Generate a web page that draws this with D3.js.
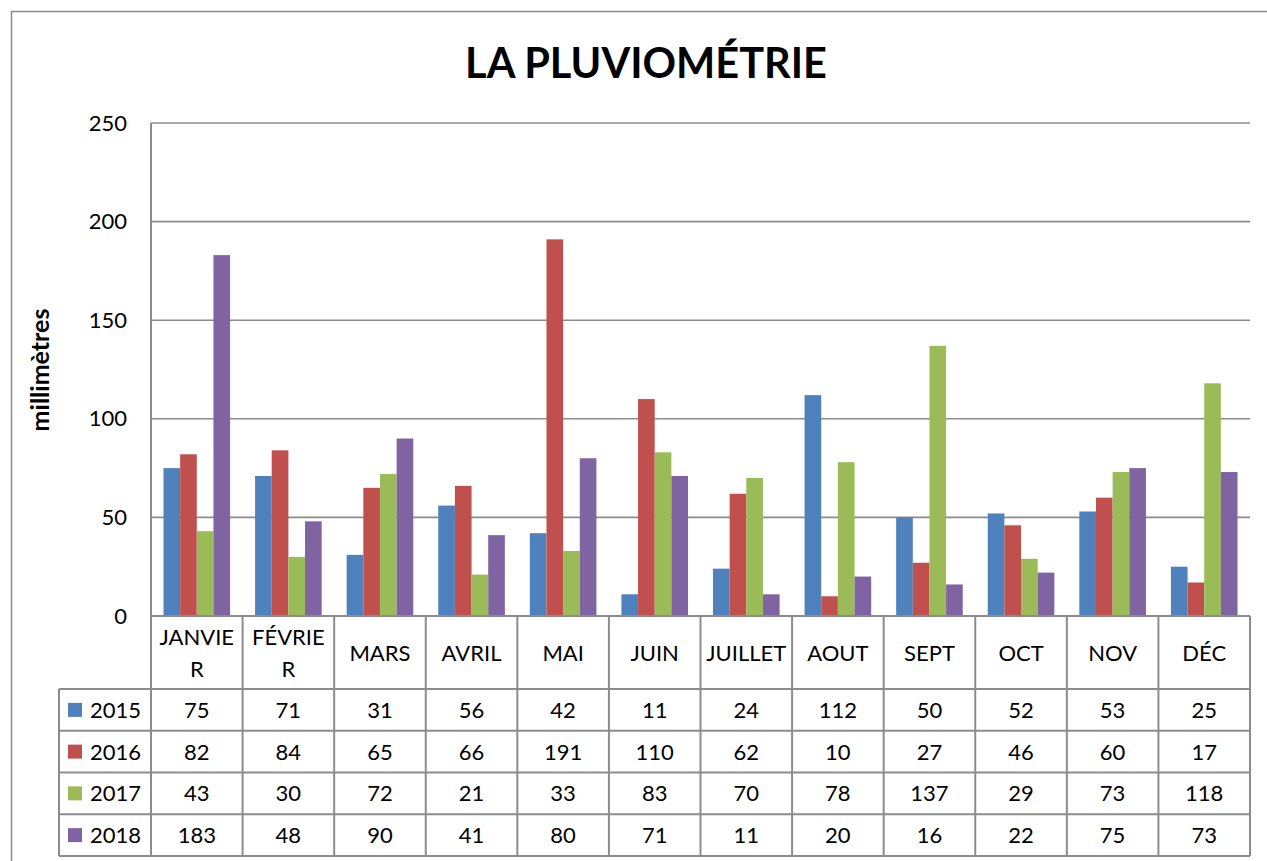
<!DOCTYPE html>
<html><head><meta charset="utf-8">
<script src="https://cdn.jsdelivr.net/npm/d3@7"></script>
<style>html,body{margin:0;padding:0;background:#fff;}svg{display:block;}</style>
</head><body>
<svg id="c" width="1267" height="861"></svg>
<script>
const months = ["JANVIER","FÉVRIER","MARS","AVRIL","MAI","JUIN","JUILLET","AOUT","SEPT","OCT","NOV","DÉC"];
const years = ["2015","2016","2017","2018"];
const v2015 = [75,71,31,56,42,11,24,112,50,52,53,25];
const v2016 = [82,84,65,66,191,110,62,10,27,46,60,17];
const v2017 = [43,30,72,21,33,83,70,78,137,29,73,118];
const v2018 = [183,48,90,41,80,71,11,20,16,22,75,73];
const colors = ["#4F81BD","#C0504D","#9BBB59","#8064A2"];
const yTicks = [0,50,100,150,200,250];
const title = "LA PLUVIOMÉTRIE";
const yTitle = "millimètres";

const series = [v2015,v2016,v2017,v2018];
const FONT = "Lato, 'Open Sans', sans-serif";
const GRID = "#8c8c8c";
const svg = d3.select("#c");

// outer frame
svg.append("path").attr("d","M11.5,870 V11.5 H1280").attr("fill","none").attr("stroke","#8c8c8c").attr("stroke-width",1.5);

const L = 151, R = 1250, T = 123, B = 616;
const y = d3.scaleLinear().domain([0,250]).range([B,T]);
const x0 = d3.scaleBand().domain(months).range([L,R]).padding(0);
const bw = x0.bandwidth();
const barW = bw/(4+1.5);
const x1 = d3.scaleBand().domain(years).range([barW*0.75, bw-barW*0.75]).padding(0);

svg.append("text").attr("x",646).attr("y",78).attr("text-anchor","middle")
  .attr("font-family",FONT).attr("font-weight","bold").attr("font-size",41.5).attr("fill","#000").text(title);

// gridlines
svg.append("g").selectAll("line").data(yTicks.filter(d=>d>0)).join("line")
  .attr("x1",L).attr("x2",R).attr("y1",d=>y(d)).attr("y2",d=>y(d))
  .attr("stroke",GRID).attr("stroke-width",1.6);

// y axis labels
const yAxis = d3.axisLeft(y).tickValues(yTicks).tickSize(0).tickPadding(24);
const ga = svg.append("g").attr("transform",`translate(${L},0)`).call(yAxis);
ga.select(".domain").remove();
ga.selectAll("text").attr("font-family",FONT).attr("font-size",22).attr("fill","#000");
svg.append("line").attr("x1",L).attr("x2",L).attr("y1",T).attr("y2",B).attr("stroke",GRID).attr("stroke-width",2);

svg.append("text").attr("transform",`translate(40,370) rotate(-90)`).attr("text-anchor","middle").attr("dy","0.36em")
  .attr("font-family",FONT).attr("font-weight","bold").attr("font-size",25).text(yTitle);

// bars
const gb = svg.append("g");
series.forEach((s,i)=>{
  gb.append("g").selectAll("rect").data(s).join("rect")
    .attr("x",(d,j)=>x0(months[j])+x1(years[i]))
    .attr("width",x1.bandwidth())
    .attr("y",d=>y(d)).attr("height",d=>B-y(d))
    .attr("fill",colors[i]);
});

// data table
const headH = 73, rowH = 41.75, legL = 59;
const tb = svg.append("g");
const lineAttr = s=>s.attr("stroke",GRID).attr("stroke-width",2).attr("fill","none");
lineAttr(tb.append("line").attr("x1",L).attr("x2",R).attr("y1",B).attr("y2",B));
for(let r=0;r<=4;r++){
  const yy = B+headH+r*rowH;
  lineAttr(tb.append("line").attr("x1",legL).attr("x2",R).attr("y1",yy).attr("y2",yy));
}
const tBottom = B+headH+4*rowH;
months.forEach(m=>lineAttr(tb.append("line").attr("x1",x0(m)).attr("x2",x0(m)).attr("y1",B).attr("y2",tBottom)));
lineAttr(tb.append("line").attr("x1",R).attr("x2",R).attr("y1",B).attr("y2",tBottom));
lineAttr(tb.append("line").attr("x1",legL).attr("x2",legL).attr("y1",B+headH).attr("y2",tBottom));

// category labels with character wrapping
const meas = svg.append("text").attr("font-family",FONT).attr("font-size",22).attr("visibility","hidden");
function w(t){meas.text(t);return meas.node().getComputedTextLength();}
months.forEach(m=>{
  const cx = x0(m)+bw/2;
  let lines=[m];
  if(w(m)>bw-8){
    let k=m.length;
    while(k>1 && w(m.slice(0,k))>bw-8) k--;
    lines=[m.slice(0,k), m.slice(k)];
  }
  const lh=32, cy=B+headH/2+1;
  lines.forEach((ln,li)=>{
    tb.append("text").attr("x",cx).attr("y",cy+(li-(lines.length-1)/2)*lh).attr("dy","0.36em")
      .attr("text-anchor","middle").attr("font-family",FONT).attr("font-size",22).attr("fill","#000").text(ln);
  });
});
meas.remove();

years.forEach((yr,i)=>{
  const cy = B+headH+i*rowH+rowH/2;
  tb.append("rect").attr("x",68).attr("y",cy-7).attr("width",14).attr("height",14).attr("fill",colors[i]);
  tb.append("text").attr("x",90).attr("y",cy).attr("dy","0.36em").attr("font-family",FONT).attr("font-size",22).text(yr);
  series[i].forEach((v,j)=>{
    tb.append("text").attr("x",x0(months[j])+bw/2).attr("y",cy).attr("dy","0.36em").attr("text-anchor","middle")
      .attr("font-family",FONT).attr("font-size",22).text(v);
  });
});
</script>
</body></html>
